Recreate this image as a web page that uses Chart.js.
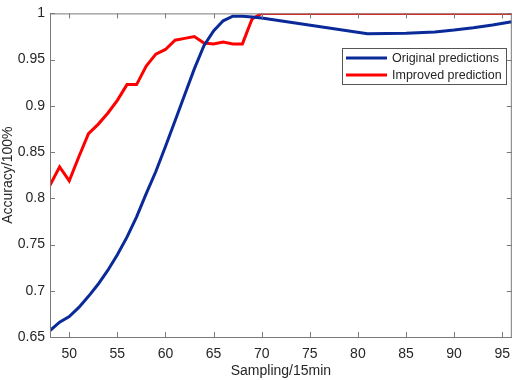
<!DOCTYPE html>
<html>
<head>
<meta charset="utf-8">
<script src="https://cdn.jsdelivr.net/npm/chart.js@4"></script>
<style>
  html, body { margin: 0; padding: 0; background: #fff; }
  #wrap { width: 519px; height: 380px; }
</style>
</head>
<body>
<div id="wrap"><canvas id="accChart" width="519" height="380"></canvas></div>
<script>
// sampling points and accuracy
const originalX = [48, 49, 50, 51, 52, 53, 54, 55, 56, 57, 58, 59, 60, 61, 62, 63, 64, 65, 66, 67, 68, 69, 70, 81, 85, 88, 90, 92, 94, 96];
const originalY = [0.657, 0.666, 0.672, 0.682, 0.694, 0.707, 0.722, 0.739, 0.758, 0.780, 0.805, 0.829, 0.856, 0.884, 0.912, 0.940, 0.965, 0.981, 0.992, 0.997, 0.997, 0.996, 0.995, 0.978, 0.9785, 0.980, 0.982, 0.9845, 0.9875, 0.991];

const improvedX = [48, 49, 50, 51, 52, 53, 54, 55, 56, 57, 58, 59, 60, 61, 62, 63, 64, 65, 66, 67, 68, 69, 70, 96];
const improvedY = [0.814, 0.834, 0.819, 0.845, 0.870, 0.880, 0.892, 0.906, 0.923, 0.923, 0.943, 0.956, 0.961, 0.971, 0.973, 0.975, 0.968, 0.967, 0.969, 0.967, 0.967, 0.994, 1.0, 1.0];

const xTicks = [50, 55, 60, 65, 70, 75, 80, 85, 90, 95];
const yTicks = [0.65, 0.7, 0.75, 0.8, 0.85, 0.9, 0.95, 1];

const seriesNames = ['Original predictions', 'Improved prediction'];
const seriesColours = ['#0a2a9a', '#ff0000'];

const axisColour = '#7a7a7a';
const textColour = '#262626';

Chart.defaults.font.family = '"Liberation Sans", Arial, sans-serif';
Chart.defaults.font.size = 14;
Chart.defaults.color = textColour;

// MATLAB style box with inward ticks on all four sides + legend in the corner
const boxPlugin = {
    id: 'boxPlugin',
    afterDraw(chart) {
        const { ctx, chartArea: a, scales } = chart;
        ctx.save();
        ctx.strokeStyle = axisColour;
        ctx.lineWidth = 1;
        ctx.strokeRect(a.left + 0.5, a.top + 0.5, a.right - a.left - 1, a.bottom - a.top);

        ctx.beginPath();
        xTicks.forEach(v => {
            const px = Math.round(scales.x.getPixelForValue(v)) + 0.5;
            ctx.moveTo(px, a.bottom); ctx.lineTo(px, a.bottom - 5);
            ctx.moveTo(px, a.top); ctx.lineTo(px, a.top + 5);
        });
        yTicks.forEach(v => {
            const py = Math.round(scales.y.getPixelForValue(v)) + 0.5;
            ctx.moveTo(a.left, py); ctx.lineTo(a.left + 5, py);
            ctx.moveTo(a.right, py); ctx.lineTo(a.right - 5, py);
        });
        ctx.stroke();

        // legend
        const lx = 342, ly = 48, lw = 164, lh = 36;
        ctx.fillStyle = '#fff';
        ctx.fillRect(lx, ly, lw, lh);
        ctx.strokeStyle = '#555';
        ctx.strokeRect(lx + 0.5, ly + 0.5, lw, lh);
        ctx.font = '12.5px "Liberation Sans", Arial, sans-serif';
        ctx.textBaseline = 'middle';
        ctx.textAlign = 'left';
        seriesNames.forEach((name, i) => {
            const y = ly + 10 + i * 17;
            ctx.strokeStyle = seriesColours[i];
            ctx.lineWidth = 3;
            ctx.beginPath();
            ctx.moveTo(346, y); ctx.lineTo(387, y);
            ctx.stroke();
            ctx.fillStyle = textColour;
            ctx.fillText(name, 392, y + 1);
        });
        ctx.restore();
    }
};

new Chart(document.getElementById('accChart'), {
    type: 'line',
    data: {
        datasets: [
            {
                label: seriesNames[0],
                data: originalX.map((x, i) => ({ x: x, y: originalY[i] })),
                borderColor: seriesColours[0],
                borderWidth: 3,
                pointRadius: 0,
                tension: 0
            },
            {
                label: seriesNames[1],
                data: improvedX.map((x, i) => ({ x: x, y: improvedY[i] })),
                borderColor: seriesColours[1],
                borderWidth: 3,
                pointRadius: 0,
                tension: 0
            }
        ]
    },
    options: {
        responsive: false,
        animation: false,
        layout: { padding: { top: 5, right: 1 } },
        plugins: {
            legend: { display: false },
            tooltip: { enabled: false }
        },
        scales: {
            x: {
                type: 'linear',
                min: 48,
                max: 96,
                afterBuildTicks: s => { s.ticks = xTicks.map(v => ({ value: v })); },
                afterFit: s => { s.height = 43; },
                grid: { display: false, drawTicks: false },
                border: { display: false },
                ticks: { padding: 9, maxRotation: 0, autoSkip: false },
                title: { display: true, text: 'Sampling/15min', padding: 0 }
            },
            y: {
                type: 'linear',
                min: 0.65,
                max: 1,
                afterBuildTicks: s => { s.ticks = yTicks.map(v => ({ value: v })); },
                afterFit: s => { s.width = 50; },
                grid: { display: false, drawTicks: false },
                border: { display: false },
                ticks: {
                    padding: 5,
                    autoSkip: false,
                    callback: v => String(+v.toFixed(2))
                },
                title: { display: true, text: 'Accuracy/100%', padding: 0 }
            }
        }
    },
    plugins: [boxPlugin]
});
</script>
</body>
</html>
